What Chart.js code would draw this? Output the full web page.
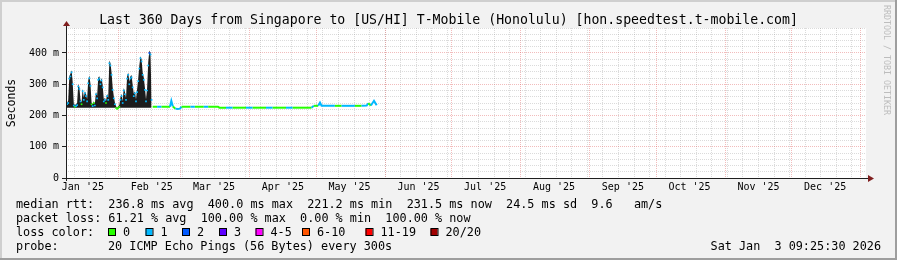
<!DOCTYPE html>
<html>
<head>
<meta charset="utf-8">
<script src="https://cdn.jsdelivr.net/npm/chart.js@4.4.1/dist/chart.umd.min.js"></script>
<style>
  html, body { margin: 0; padding: 0; background: #f2f2f2; }
  canvas { display: block; }
</style>
</head>
<body>
<canvas id="rttChart" width="897" height="260"></canvas>
<script>
// 360 days ending Sat Jan 3 09:25:30 2026; x = days since start
const startTime = Date.UTC(2025, 0, 8, 9, 25, 30);
const DAY = 86400000;
const monthLabels = ["Jan '25", "Feb '25", "Mar '25", "Apr '25", "May '25", "Jun '25",
  "Jul '25", "Aug '25", "Sep '25", "Oct '25", "Nov '25", "Dec '25"];

// first 39 days, one sample every 12 h (median rtt in ms, smoke top, lost pings)
const denseStep = 0.5;
const denseMedian = [
  232, 236, 240, 318, 325, 338, 300, 232, 228, 230,
  233, 293, 285, 245, 236, 278, 250, 271, 262, 245,
  303, 319, 295, 236, 230, 240, 232, 268, 255, 314,
  318, 300, 312, 290, 245, 250, 240, 262, 250, 367,
  360, 330, 282, 255, 236, 224, 221, 224, 228, 250,
  262, 240, 280, 268, 250, 318, 330, 300, 318, 322,
  290, 262, 271, 245, 275, 310, 350, 383, 373, 330,
  314, 282, 245, 280, 360, 400, 395, 250
];
const denseSmoke = [
  236, 240, 248, 326, 334, 345, 308, 238, 234, 236,
  240, 300, 292, 252, 242, 286, 258, 278, 270, 252,
  312, 328, 302, 242, 236, 246, 238, 276, 262, 322,
  326, 308, 320, 298, 252, 256, 246, 270, 256, 376,
  368, 338, 290, 262, 242, 230, 226, 230, 234, 258,
  270, 246, 288, 276, 256, 326, 338, 308, 326, 330,
  298, 270, 278, 252, 284, 318, 360, 390, 380, 338,
  322, 290, 252, 288, 370, 408, 402, 256
];
const denseLoss = [
  0, 1, 1, 1, 1, 1, 1, 1, 0, 1,
  1, 1, 1, 1, 0, 1, 1, 1, 1, 1,
  1, 1, 1, 0, 1, 0, 1, 1, 1, 1,
  1, 1, 1, 1, 1, 1, 0, 1, 1, 1,
  1, 1, 1, 1, 1, 0, 0, 0, 0, 1,
  1, 1, 1, 1, 1, 1, 1, 1, 1, 1,
  1, 1, 1, 1, 1, 1, 1, 1, 1, 1,
  1, 1, 1, 1, 1, 2, 1, 1
];

// after that the path is quiet until the target stops answering
const flatDays = [39, 41, 43, 45, 46.8, 47.4, 48.1, 49.2, 50.3, 51.3,
  52, 54, 56, 58, 60, 62, 64, 66, 68.4, 69,
  72, 75, 78, 81, 84, 87, 90, 93, 96, 99,
  102, 105, 108, 110.5, 111.5, 113.5, 114.3, 115, 118, 121,
  124, 127, 130, 133, 135.3, 136, 137.2, 138.6, 139.8];
const flatMedian = [228, 228, 228, 228, 228, 247, 229, 222, 221, 222,
  228, 228, 228, 228, 228, 228, 228, 228, 228, 225,
  225, 225, 225, 225, 225, 225, 225, 225, 225, 225,
  225, 225, 225, 225, 231, 231, 241, 231, 231, 231,
  231, 231, 231, 231, 232, 239, 232, 247, 233];
const flatLoss = [0, 1, 0, 0, 1, 1, 0, 1, 1, 1,
  0, 0, 1, 0, 0, 1, 0, 0, 0, 0,
  1, 0, 0, 1, 0, 0, 1, 0, 0, 1,
  0, 0, 0, 1, 0, 1, 1, 1, 1, 0,
  1, 1, 0, 1, 1, 0, 1, 1, 1];

const lossNames = ['0', '1', '2', '3', '4-5', '6-10', '11-19', '20/20'];
const lossColors = ['#26ff00', '#00b8ff', '#0059ff', '#5e00ff', '#ff00ff', '#ff5500', '#ff0000', '#a10000'];

const legendLines = [
  'median rtt:  236.8 ms avg  400.0 ms max  221.2 ms min  231.5 ms now  24.5 ms sd  9.6   am/s',
  'packet loss: 61.21 % avg  100.00 % max  0.00 % min  100.00 % now'
];
const titleText = 'Last 360 Days from Singapore to [US/HI] T-Mobile (Honolulu) [hon.speedtest.t-mobile.com]';
const probeText = '20 ICMP Echo Pings (56 Bytes) every 300s';
const stampText = 'Sat Jan  3 09:25:30 2026';

const MONO = '"DejaVu Sans Mono", monospace';
const GRID = 'rgba(143,143,143,0.32)';
const MGRID = 'rgba(222,79,79,0.38)';

// x ticks: sundays (minor grid), month starts (major grid), mid-month labels
let xTicks = [];
for (let t = Date.UTC(2025, 0, 12); t <= startTime + 360 * DAY; t += 7 * DAY) {
  xTicks.push({ value: (t - startTime) / DAY, kind: 'week' });
}
for (let m = 0; m <= 12; m++) {
  const d = (Date.UTC(2025, m, 1) - startTime) / DAY;
  if (d >= 0 && d <= 360) xTicks.push({ value: d, kind: 'month' });
  if (m < 12) xTicks.push({ value: d + 15, kind: 'label', text: monthLabels[m] });
}
xTicks.sort((a, b) => a.value - b.value);

const framePlugin = {
  id: 'frame',
  beforeDraw(chart) {
    const ctx = chart.ctx, a = chart.chartArea;
    const W = chart.width, H = chart.height;
    ctx.save();
    ctx.fillStyle = '#f2f2f2';
    ctx.fillRect(0, 0, W, H);
    ctx.fillStyle = '#cfcfcf';
    ctx.fillRect(0, 0, W, 2);
    ctx.fillRect(0, 0, 2, H);
    ctx.fillStyle = '#9e9e9e';
    ctx.fillRect(0, H - 2, W, 2);
    ctx.fillRect(W - 2, 0, 2, H);
    ctx.fillStyle = '#ffffff';
    ctx.fillRect(a.left, a.top, a.right - a.left, a.bottom - a.top);
    ctx.restore();
  },
  afterDatasetsDraw(chart) {
    const ctx = chart.ctx, a = chart.chartArea;
    ctx.save();
    // axes with arrows
    ctx.strokeStyle = '#1f1f1f';
    ctx.lineWidth = 1;
    ctx.beginPath();
    ctx.moveTo(a.left + 0.5, a.bottom + 3);
    ctx.lineTo(a.left + 0.5, a.top - 4);
    ctx.moveTo(a.left - 4, a.bottom + 0.5);
    ctx.lineTo(a.right + 2, a.bottom + 0.5);
    ctx.stroke();
    ctx.fillStyle = '#801f1f';
    ctx.beginPath();
    ctx.moveTo(a.left + 0.5, a.top - 7);
    ctx.lineTo(a.left - 3, a.top - 2);
    ctx.lineTo(a.left + 4, a.top - 2);
    ctx.closePath();
    ctx.fill();
    ctx.beginPath();
    ctx.moveTo(a.right + 8, a.bottom + 0.5);
    ctx.lineTo(a.right + 2, a.bottom - 3);
    ctx.lineTo(a.right + 2, a.bottom + 4);
    ctx.closePath();
    ctx.fill();
    ctx.restore();
  },
  afterDraw(chart) {
    const ctx = chart.ctx;
    ctx.save();
    ctx.fillStyle = '#000';
    ctx.textBaseline = 'alphabetic';

    ctx.font = '13.2px ' + MONO;
    ctx.textAlign = 'center';
    ctx.fillText(titleText, 448.5, 23.5);

    ctx.save();
    ctx.translate(15, 103);
    ctx.rotate(-Math.PI / 2);
    ctx.font = '11.5px ' + MONO;
    ctx.fillText('Seconds', 0, 0);
    ctx.restore();

    ctx.font = '11.8px ' + MONO;
    ctx.textAlign = 'left';
    ctx.fillText(legendLines[0], 16, 208);
    ctx.fillText(legendLines[1], 16, 222);
    ctx.fillText('loss color:', 16, 236);
    const boxX = [108, 145.5, 182, 219, 255.5, 302, 365.5, 430.5];
    lossNames.forEach((name, i) => {
      ctx.fillStyle = lossColors[i];
      ctx.fillRect(boxX[i], 228.5, 7, 7);
      ctx.strokeStyle = '#000';
      ctx.lineWidth = 1;
      ctx.strokeRect(boxX[i] + 0.5, 228.5, 7, 7);
      ctx.fillStyle = '#000';
      ctx.fillText(name, boxX[i] + 15, 236);
    });
    ctx.fillText('probe:', 16, 250);
    ctx.fillText(probeText, 108, 250);
    ctx.textAlign = 'right';
    ctx.fillText(stampText, 881, 250);

    ctx.save();
    ctx.translate(884, 5);
    ctx.rotate(Math.PI / 2);
    ctx.font = '8.3px ' + MONO;
    ctx.fillStyle = '#bdbdbd';
    ctx.textAlign = 'left';
    ctx.fillText('RRDTOOL / TOBI OETIKER', 0, 0);
    ctx.restore();

    ctx.restore();
  }
};

const config = {
  type: 'line',
  data: {
    datasets: [
      {
        label: 'median dense',
        data: denseMedian.map((v, i) => ({ x: i * denseStep, y: v })),
        showLine: false,
        pointStyle: 'rect',
        pointRadius: 1.2,
        pointBorderWidth: 0,
        pointBackgroundColor: ctx => lossColors[denseLoss[ctx.dataIndex] || 0],
        order: 0
      },
      {
        label: 'median',
        data: flatMedian.map((v, i) => ({ x: flatDays[i], y: v })),
        borderColor: lossColors[0],
        borderWidth: 2,
        pointRadius: 0,
        tension: 0,
        segment: {
          borderColor: ctx => lossColors[flatLoss[ctx.p0DataIndex] || 0]
        },
        order: 1
      },
      {
        label: 'smoke',
        data: denseSmoke.map((v, i) => ({ x: i * denseStep, y: v })),
        borderColor: '#1c1c1c',
        backgroundColor: '#1c1c1c',
        borderWidth: 0,
        pointRadius: 0,
        tension: 0,
        fill: { value: 225 },
        order: 2
      }
    ]
  },
  options: {
    responsive: false,
    animation: false,
    devicePixelRatio: 1,
    layout: { padding: { left: 0, top: 28, right: 31, bottom: 62 } },
    plugins: { legend: { display: false }, tooltip: { enabled: false } },
    scales: {
      x: {
        type: 'linear',
        min: 0,
        max: 360,
        afterBuildTicks: scale => { scale.ticks = xTicks.map(t => Object.assign({}, t)); },
        afterFit: scale => { scale.height = 20; },
        ticks: {
          autoSkip: false,
          maxRotation: 0,
          minRotation: 0,
          padding: 3,
          color: '#000',
          font: { family: MONO, size: 10 },
          callback: (v, i, ticks) => ticks[i].text || ''
        },
        grid: {
          drawTicks: false,
          lineWidth: 1,
          color: ctx => {
            const k = ctx.tick && ctx.tick.kind;
            return k === 'month' ? MGRID : k === 'week' ? GRID : 'transparent';
          }
        },
        border: { display: false, dash: [1, 1] }
      },
      y: {
        min: 0,
        max: 480,
        afterFit: scale => { scale.width = 66; },
        ticks: {
          stepSize: 20,
          autoSkip: false,
          padding: 3,
          color: '#000',
          font: { family: MONO, size: 10 },
          callback: v => v % 100 === 0 ? (v === 0 ? '0' : v + ' m') : ''
        },
        grid: {
          lineWidth: 1,
          tickLength: 4,
          tickBorderDash: [],
          color: ctx => {
            const v = ctx.tick ? ctx.tick.value : 0;
            if (v === 0) return 'transparent';
            return v % 100 === 0 ? MGRID : GRID;
          },
          tickColor: ctx => ctx.tick && ctx.tick.value % 100 === 0 ? '#1f1f1f' : 'transparent'
        },
        border: { display: false, dash: [1, 1] }
      }
    }
  },
  plugins: [framePlugin]
};

new Chart(document.getElementById('rttChart'), config);
</script>
</body>
</html>
